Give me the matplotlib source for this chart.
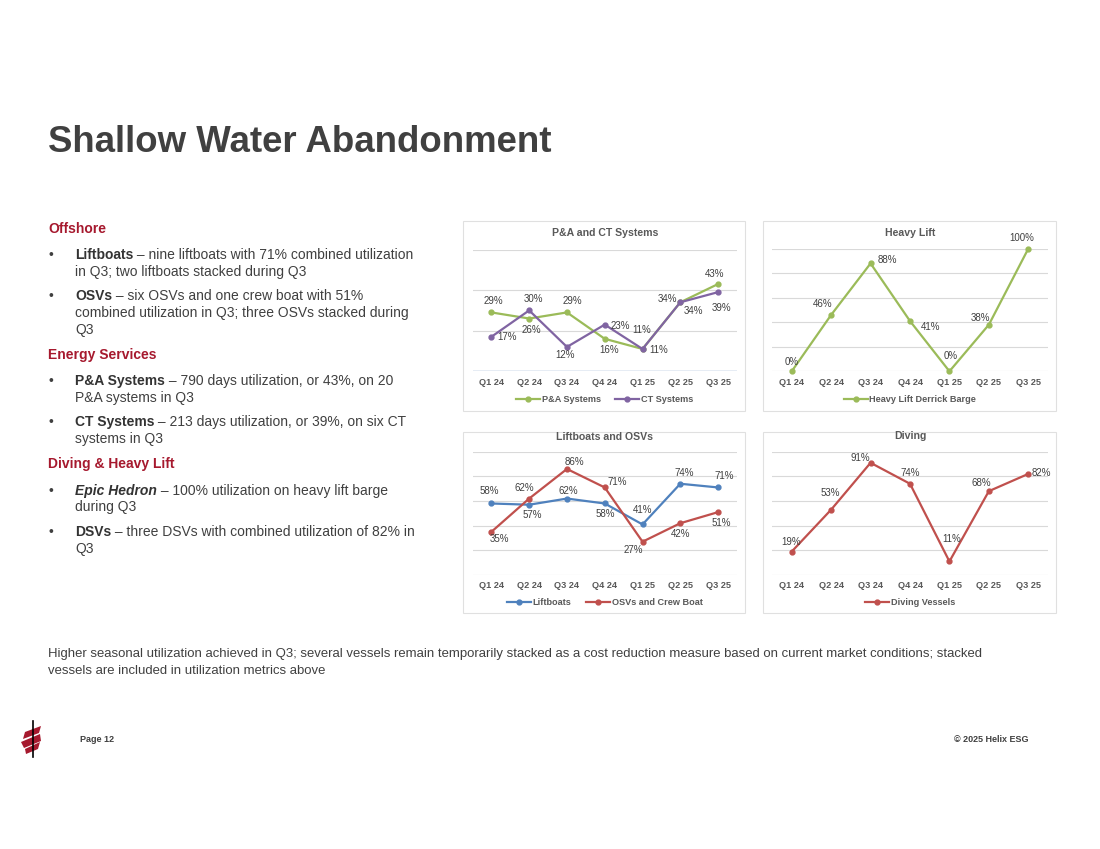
import numpy as np
import matplotlib
matplotlib.use('Agg')
import matplotlib.pyplot as plt
from matplotlib.patches import Rectangle, Polygon
from matplotlib.lines import Line2D

""" Slide 12 - Shallow Water Abandonment utilization charts"""

plt.rcParams['font.family'] = ['Liberation Sans', 'DejaVu Sans']

W, H = 1100, 849

# Data
quarters = ['Q1 24', 'Q2 24', 'Q3 24', 'Q4 24', 'Q1 25', 'Q2 25', 'Q3 25']
pa_systems = [29, 26, 29, 16, 11, 34, 43]
ct_systems = [17, 30, 12, 23, 11, 34, 39]
heavy_lift = [0, 46, 88, 41, 0, 38, 100]
liftboats = [58, 57, 62, 58, 41, 74, 71]
osvs = [35, 62, 86, 71, 27, 42, 51]
diving = [19, 53, 91, 74, 11, 68, 82]

# label offsets in pixels (dx, dy screen-down)
pa_off = [(2, -11), (2, 11), (5, -11), (4, 11), (-1, -19), (-13, -3), (-4, -10)]
ct_off = [(16, 0), (4, -11), (-2, 8), (16, 1), (16, 1), (13, 9), (3, 16)]
hl_off = [(0, -9), (-9, -11), (17, -3), (21, 6), (1, -15), (-8, -7), (-7, -11)]
lb_off = [(-2, -12), (3, 10), (1, -8), (1, 11), (0, -14), (4, -11), (6, -11)]
osv_off = [(8, 7), (-5, -11), (7, -7), (12, -5), (-9, 8), (0, 11), (3, 11)]
dv_off = [(-1, -10), (-1, -17), (-10, -5), (0, -11), (2, -22), (-8, -8), (13, -1)]

GREEN = '#9BBB59'
PURPLE = '#8064A2'
BLUE = '#4F81BD'
RED = '#C0504D'
GRID = '#D9D9D9'
DARK = '#404040'
MID = '#595959'
HEAD = '#A6192E'


def fx(x):
    return x / W


def fy(y):
    return 1 - y / H


fig = plt.figure(figsize=(11, 8.49), dpi=100)


def chart(x0, x1, ytop, ybot, ymax, series, title, title_y, box, leg_y, blue_axis=False):
    # chart border
    bx0, by0, bx1, by1 = box
    fig.patches.append(Rectangle((fx(bx0), fy(by1)), (bx1 - bx0) / W, (by1 - by0) / H,
                                 transform=fig.transFigure, fill=False,
                                 edgecolor='#E0E0E0', lw=0.8))
    ax = fig.add_axes([fx(x0), fy(ybot), (x1 - x0) / W, (ybot - ytop) / H])
    x = np.arange(len(quarters))
    handles = []
    for vals, col, name, offs in series:
        ax.plot(x, vals, color=col, lw=1.6, marker='o', ms=3.5, clip_on=False, zorder=3)
        handles.append(Line2D([0], [0], color=col, lw=1.6, marker='o', ms=3.5, label=name))
        for i, v in enumerate(vals):
            ax.annotate(f'{v}%', (i, v), xytext=(offs[i][0], -offs[i][1]),
                        textcoords='offset pixels', ha='center', va='center',
                        fontsize=7, color=DARK)
    ax.set_xlim(-0.5, len(quarters) - 0.5)
    ax.set_ylim(0, ymax)
    ax.set_yticks(range(0, ymax + 1, 20))
    ax.yaxis.grid(True, color=GRID, lw=0.8)
    ax.set_axisbelow(True)
    ax.set_yticklabels([])
    ax.tick_params(axis='y', length=0)
    ax.set_xticks(x)
    ax.set_xticklabels(quarters, fontsize=6.6, fontweight='bold', color=MID)
    ax.tick_params(axis='x', length=0, pad=4.5)
    for s in ax.spines.values():
        s.set_visible(False)
    if blue_axis:
        ax.axhline(0, color=BLUE, lw=0.9, zorder=2)
    ax.patch.set_alpha(0)
    cx = (x0 + x1) / 2
    fig.text(fx(cx), fy(title_y), title, ha='center', va='center',
             fontsize=7.6, fontweight='bold', color=MID)
    fig.legend(handles=handles, loc='center', bbox_to_anchor=(fx(cx), fy(leg_y)),
               bbox_transform=fig.transFigure, ncol=len(handles), frameon=False,
               prop={'size': 6.6, 'weight': 'bold'}, labelcolor=MID,
               handlelength=2.6, handletextpad=0.2, columnspacing=1.6)
    return ax


chart(472.5, 737, 249.5, 371.3, 60,
      [(pa_systems, GREEN, 'P&A Systems', pa_off), (ct_systems, PURPLE, 'CT Systems', ct_off)],
      'P&A and CT Systems', 233.5, (463, 221, 745, 411), 399.5, blue_axis=True)
chart(772, 1048, 248.7, 371.3, 100,
      [(heavy_lift, GREEN, 'Heavy Lift Derrick Barge', hl_off)],
      'Heavy Lift', 233.5, (763, 221, 1056, 411), 399.5)
chart(472.5, 737, 451.7, 575, 100,
      [(liftboats, BLUE, 'Liftboats', lb_off), (osvs, RED, 'OSVs and Crew Boat', osv_off)],
      'Liftboats and OSVs', 436.5, (463, 432, 745, 613), 602.5)
chart(772, 1048, 451.7, 575, 100,
      [(diving, RED, 'Diving Vessels', dv_off)],
      'Diving', 436, (763, 432, 1056, 613), 602.5)

# Slide title
fig.text(fx(48), fy(152.5), 'Shallow Water Abandonment', ha='left', va='baseline',
         fontsize=26.4, fontweight='bold', color=DARK)

# Left column text
renderer = fig.canvas.get_renderer()

headings = [(229, 'Offshore'), (355, 'Energy Services'), (464, 'Diving & Heavy Lift')]
for y, t in headings:
    fig.text(fx(48), fy(y), t, ha='left', va='center', fontsize=10,
             fontweight='bold', color=HEAD)

lines = [
    (255, True, 'Liftboats', 'normal', ' – nine liftboats with 71% combined utilization'),
    (272, False, '', 'normal', 'in Q3; two liftboats stacked during Q3'),
    (296, True, 'OSVs', 'normal', ' – six OSVs and one crew boat with 51%'),
    (313, False, '', 'normal', 'combined utilization in Q3; three OSVs stacked during'),
    (330, False, '', 'normal', 'Q3'),
    (381, True, 'P&A Systems', 'normal', ' – 790 days utilization, or 43%, on 20'),
    (398, False, '', 'normal', 'P&A systems in Q3'),
    (422, True, 'CT Systems', 'normal', ' – 213 days utilization, or 39%, on six CT'),
    (439, False, '', 'normal', 'systems in Q3'),
    (491, True, 'Epic Hedron', 'italic', ' – 100% utilization on heavy lift barge'),
    (507, False, '', 'normal', 'during Q3'),
    (532, True, 'DSVs', 'normal', ' – three DSVs with combined utilization of 82% in'),
    (549, False, '', 'normal', 'Q3'),
]
for y, bullet, bold, style, rest in lines:
    xpos = 75
    if bullet:
        fig.text(fx(48), fy(y), '•', ha='left', va='center', fontsize=10, color=DARK)
    if bold:
        t = fig.text(fx(xpos), fy(y), bold, ha='left', va='center', fontsize=10,
                     fontweight='bold', fontstyle=style, color='#333333')
        xpos += t.get_window_extent(renderer).width
    fig.text(fx(xpos), fy(y), rest, ha='left', va='center', fontsize=10, color=DARK)

# Bottom note
fig.text(fx(48), fy(654), 'Higher seasonal utilization achieved in Q3; several vessels remain temporarily '
         'stacked as a cost reduction measure based on current market conditions; stacked',
         ha='left', va='center', fontsize=9.45, color=DARK)
fig.text(fx(48), fy(671), 'vessels are included in utilization metrics above',
         ha='left', va='center', fontsize=9.45, color=DARK)

# Footer
fig.text(fx(80), fy(739), 'Page 12', ha='left', va='center', fontsize=6.5,
         fontweight='bold', color=DARK)
fig.text(fx(1028), fy(739), '© 2025 Helix ESG', ha='right', va='center', fontsize=6.5,
         fontweight='bold', color=DARK)

# Logo (rough helix)
fig.lines.append(Line2D([fx(33), fx(33)], [fy(721), fy(757)], transform=fig.transFigure,
                        color='black', lw=1.2))
bands = [
    [(25, 732), (41, 726), (39, 733), (23, 739)],
    [(21, 742), (40, 734), (41, 741), (24, 748)],
    [(25, 749), (40, 742), (38, 749), (26, 754)],
]
for b in bands:
    fig.patches.append(Polygon([(fx(px), fy(py)) for px, py in b], closed=True,
                               transform=fig.transFigure, facecolor='#A6192E',
                               edgecolor='none'))

fig.savefig('out.png', dpi=100)
